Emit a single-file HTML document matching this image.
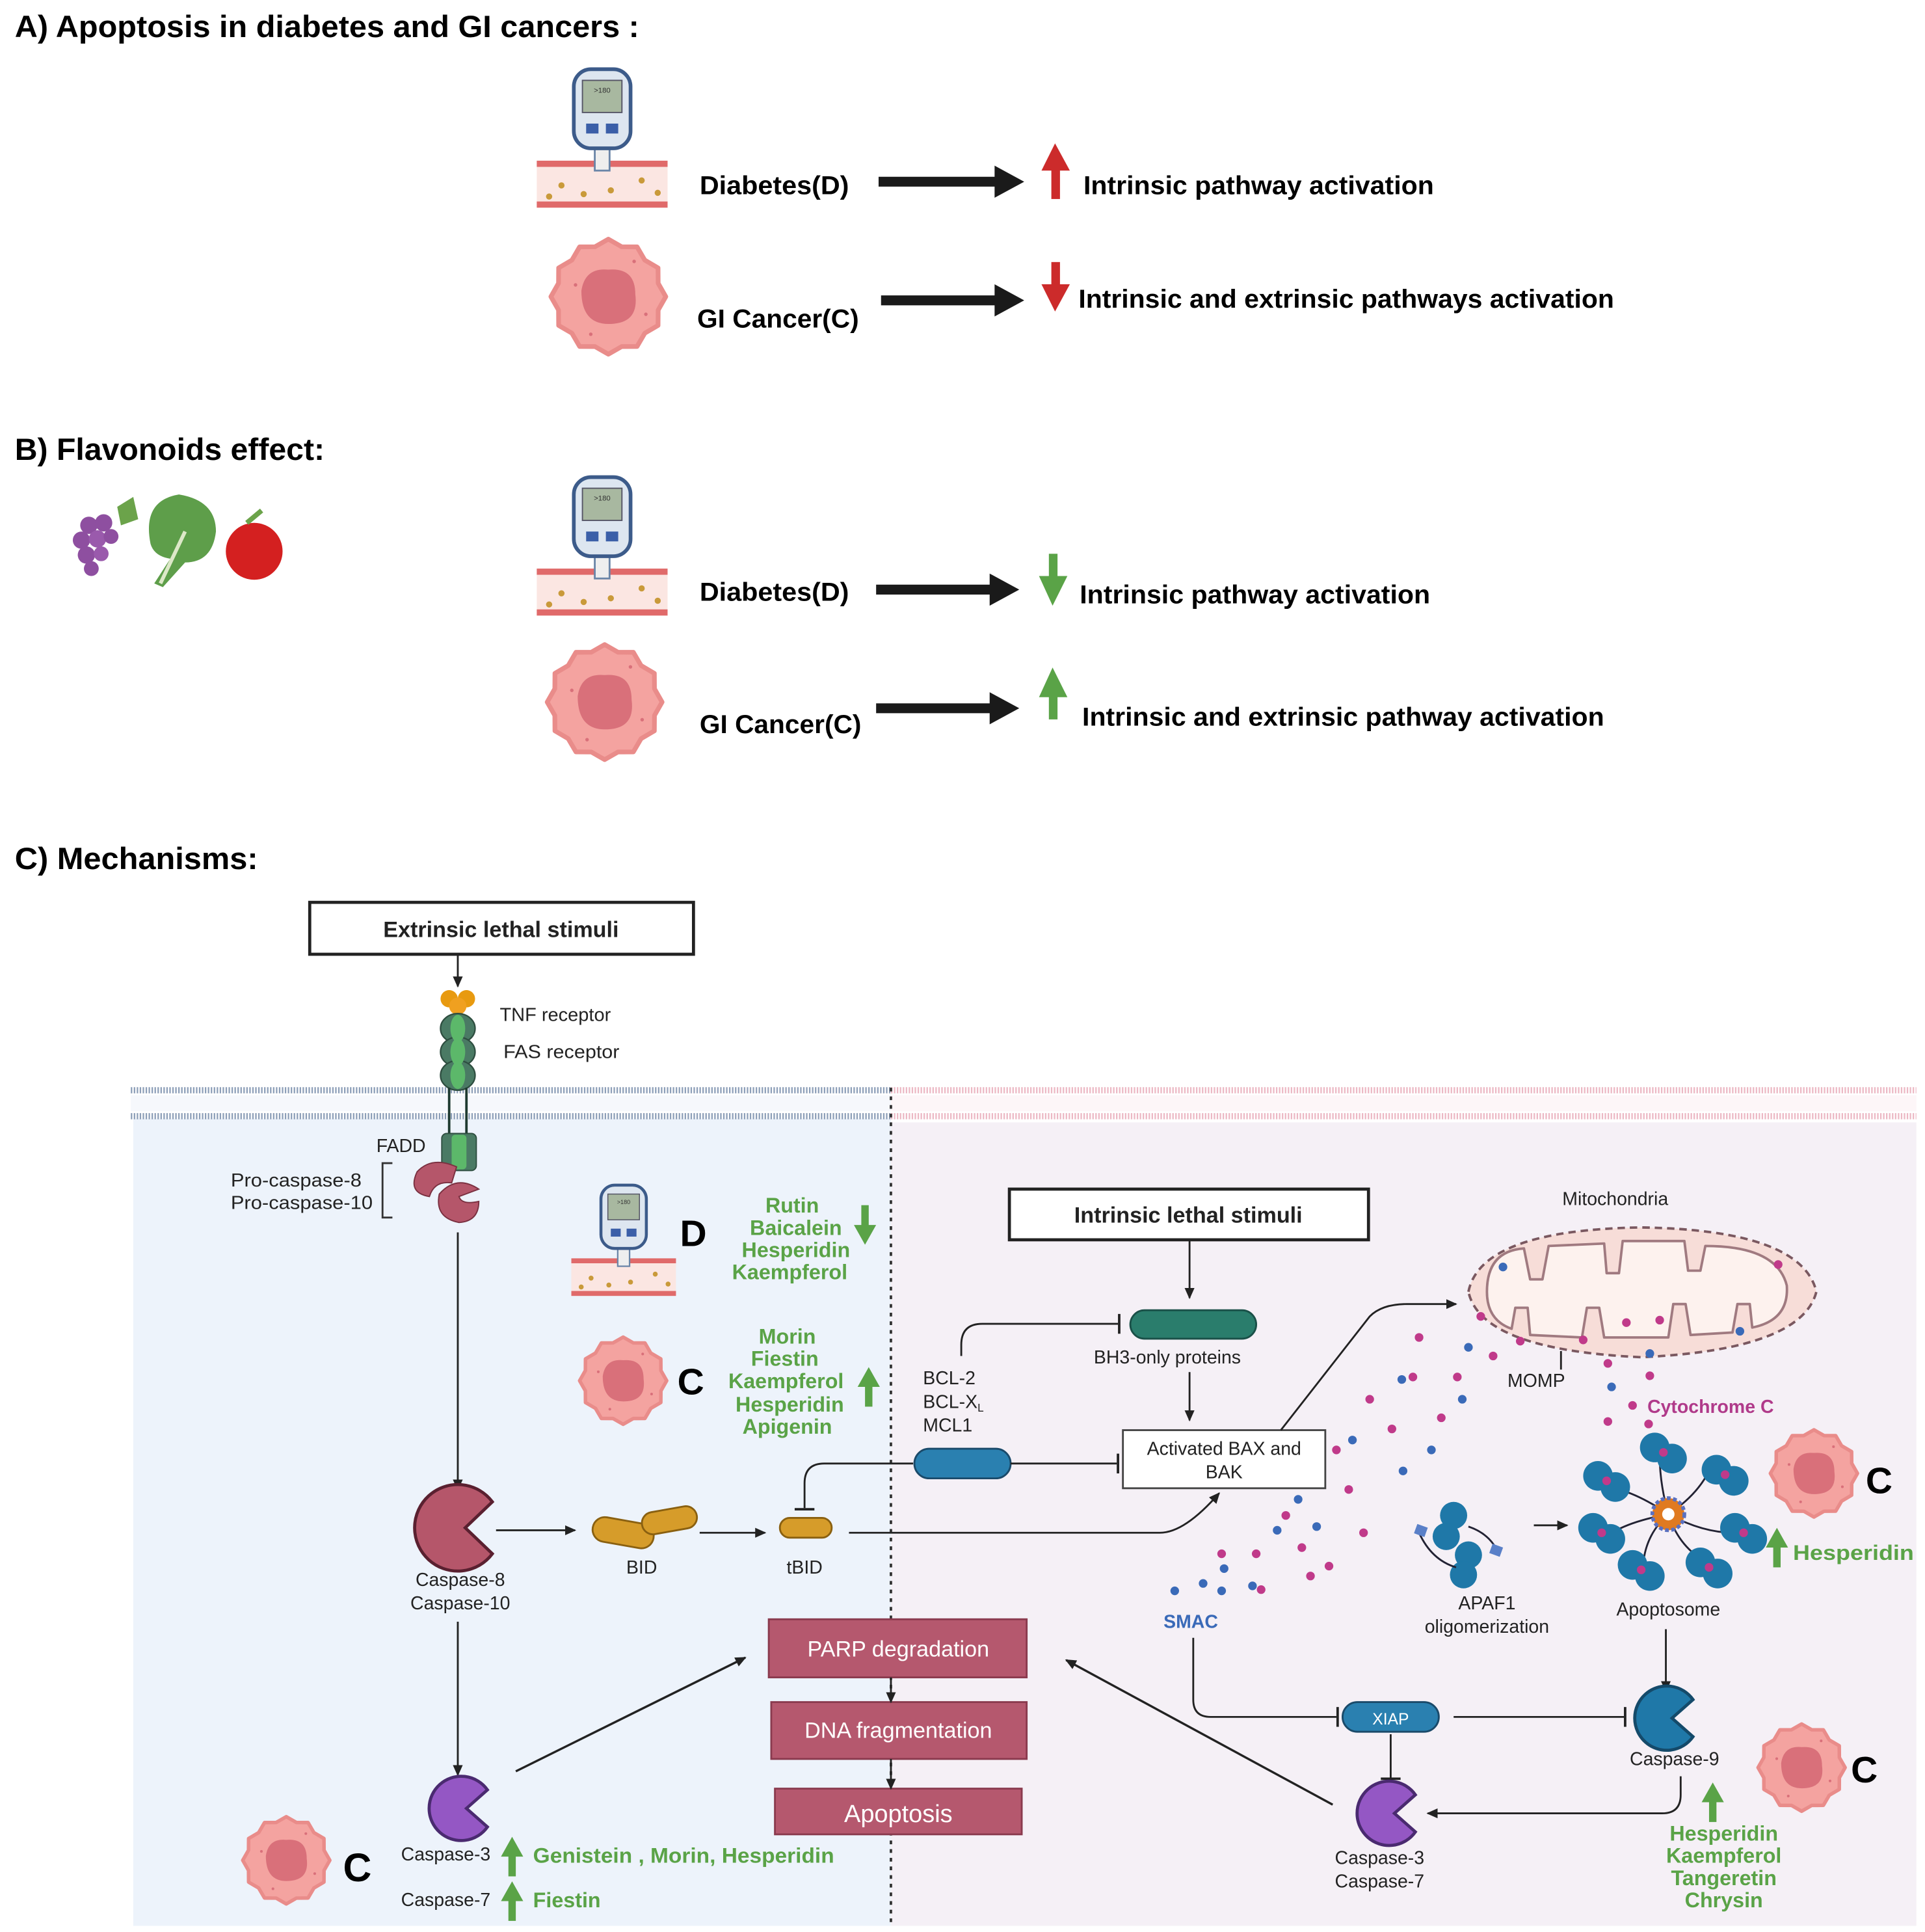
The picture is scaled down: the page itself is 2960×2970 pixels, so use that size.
<!DOCTYPE html>
<html><head><meta charset="utf-8"><style>
html,body{margin:0;padding:0;background:#fff}
svg{display:block}
text{font-family:"Liberation Sans Narrow","Liberation Sans",sans-serif}
.b{font-weight:bold}
.g{fill:#5aa347;font-weight:bold;font-size:17px}
.s{font-size:15px;fill:#222}
</style></head><body>
<svg width="2960" height="2970" viewBox="0 0 1560 1563" preserveAspectRatio="none" xmlns="http://www.w3.org/2000/svg">
<defs>
<marker id="ah" markerWidth="10" markerHeight="10" refX="8" refY="5" orient="auto" markerUnits="userSpaceOnUse"><path d="M0,1 L9,5 L0,9 Z" fill="#222"/></marker>
<g id="cell">
<polygon points="49,0 42.5,11.4 42.4,24.5 31.1,31.1 24.5,42.4 11.4,42.5 0,49 -11.4,42.5 -24.5,42.4 -31.1,31.1 -42.4,24.5 -42.5,11.4 -49,0 -42.5,-11.4 -42.4,-24.5 -31.1,-31.1 -24.5,-42.4 -11.4,-42.5 0,-49 11.4,-42.5 24.5,-42.4 31.1,-31.1 42.4,-24.5 42.5,-11.4" fill="#f4a3a0" stroke="#e98c8a" stroke-width="4" stroke-linejoin="round"/>
<path d="M-23,-5 Q-20,-25 0,-23 Q23,-25 23,-2 Q26,21 5,23 Q-23,26 -23,-5Z" fill="#d9707a"/>
<circle cx="-28" cy="-10" r="1.5" fill="#d9707a"/><circle cx="22" cy="-30" r="1.5" fill="#d9707a"/><circle cx="32" cy="15" r="1.5" fill="#d9707a"/><circle cx="-15" cy="32" r="1.5" fill="#d9707a"/>
</g>
<g id="meter">
<rect x="0" y="0" width="106" height="38" fill="#fbe6e2"/>
<rect x="0" y="0" width="106" height="5" fill="#e06a6a"/>
<rect x="0" y="33" width="106" height="5" fill="#e06a6a"/>
<circle cx="20" cy="20" r="2.5" fill="#c99a3a"/><circle cx="38" cy="27" r="2.5" fill="#c99a3a"/><circle cx="60" cy="24" r="2.5" fill="#c99a3a"/><circle cx="85" cy="16" r="2.5" fill="#c99a3a"/><circle cx="98" cy="26" r="2.5" fill="#c99a3a"/><circle cx="10" cy="29" r="2.5" fill="#c99a3a"/>
<rect x="47" y="-14" width="12" height="22" fill="#eee" stroke="#6b86a8" stroke-width="1.5"/>
<rect x="30" y="-74" width="46" height="64" rx="14" fill="#dde6f0" stroke="#3c5b8a" stroke-width="3"/>
<rect x="37" y="-65" width="32" height="26" fill="#a8b8a0" stroke="#556" stroke-width="1"/>
<text x="53" y="-55" font-size="6" text-anchor="middle" fill="#333">&gt;180</text>
<path d="M40,-30 L50,-30 L50,-22 L40,-22Z M56,-30 L66,-30 L66,-22 L56,-22Z" fill="#3b5fa8"/>
</g>
<g id="pac8"><path d="M28,-21 A35,35 0 1 0 28,21 L6,0 Z" fill="#b5566a" stroke="#5a2030" stroke-width="2.5"/></g>
<g id="pac3"><path d="M22,-15 A26,26 0 1 0 22,15 L5,0 Z" fill="#9457c4" stroke="#4a2a70" stroke-width="2.5"/></g>
<g id="pac9"><path d="M22,-15 A26,26 0 1 0 22,15 L5,0 Z" fill="#1f78a8" stroke="#144a6a" stroke-width="2.5"/></g>
<g id="up"><rect x="-3" y="-2" width="6" height="20" fill="#5aa347"/><path d="M-9,2 L0,-14 L9,2Z" fill="#5aa347"/></g>
<g id="blob"><circle cx="-7" cy="-4" r="12" fill="#1f78a8"/><circle cx="7" cy="5" r="12" fill="#1f78a8"/><circle cx="0" cy="0" r="3.5" fill="#c03a8a"/></g>
</defs>

<!-- Section A -->
<text x="12" y="30" class="b" font-size="25" textLength="506" lengthAdjust="spacingAndGlyphs">A)  Apoptosis in diabetes and GI cancers :</text>
<use href="#meter" x="435" y="130"/>
<text x="567" y="157" class="b" font-size="21" textLength="121" lengthAdjust="spacingAndGlyphs">Diabetes(D)</text>
<line x1="712" y1="147" x2="808" y2="147" stroke="#1a1a1a" stroke-width="8"/><path d="M806,134 L830,147 L806,160Z" fill="#1a1a1a"/>
<rect x="852" y="134" width="7" height="27" fill="#cc2b2b"/><path d="M844,138 L855,116 L867,138Z" fill="#cc2b2b"/>
<text x="878" y="157" class="b" font-size="21" textLength="284" lengthAdjust="spacingAndGlyphs">Intrinsic pathway activation</text>
<use href="#cell" transform="translate(493,240) scale(0.95)"/>
<text x="565" y="265" class="b" font-size="21" textLength="131" lengthAdjust="spacingAndGlyphs">GI Cancer(C)</text>
<line x1="714" y1="243" x2="808" y2="243" stroke="#1a1a1a" stroke-width="8"/><path d="M806,230 L830,243 L806,256Z" fill="#1a1a1a"/>
<rect x="852" y="212" width="7" height="22" fill="#cc2b2b"/><path d="M844,230 L855,252 L867,230Z" fill="#cc2b2b"/>
<text x="874" y="249" class="b" font-size="21" textLength="434" lengthAdjust="spacingAndGlyphs">Intrinsic and extrinsic pathways activation</text>

<!-- Section B -->
<text x="12" y="372" class="b" font-size="25" textLength="251" lengthAdjust="spacingAndGlyphs">B) Flavonoids effect:</text>
<g>
<path d="M95,410 L108,402 L112,420 L98,425Z" fill="#6ba34a"/>
<circle cx="72" cy="425" r="7" fill="#8e4fa0"/><circle cx="84" cy="423" r="7" fill="#8e4fa0"/><circle cx="66" cy="437" r="7" fill="#8e4fa0"/><circle cx="79" cy="436" r="7" fill="#9a5aac"/><circle cx="90" cy="434" r="6" fill="#8e4fa0"/><circle cx="70" cy="449" r="7" fill="#8e4fa0"/><circle cx="82" cy="448" r="6" fill="#9a5aac"/><circle cx="74" cy="460" r="6" fill="#8e4fa0"/>
<path d="M122,440 Q115,405 145,400 Q175,405 175,430 Q172,455 150,455 L132,475 L125,472 L138,452 Q125,450 122,440Z" fill="#5e9e4a"/>
<path d="M130,472 L150,430" stroke="#dde8c8" stroke-width="3"/>
<circle cx="206" cy="446" r="23" fill="#d42020"/><path d="M200,423 L212,413" stroke="#6ba34a" stroke-width="4"/>
</g>
<use href="#meter" x="435" y="460"/>
<text x="567" y="486" class="b" font-size="21" textLength="121" lengthAdjust="spacingAndGlyphs">Diabetes(D)</text>
<line x1="710" y1="477" x2="804" y2="477" stroke="#1a1a1a" stroke-width="8"/><path d="M802,464 L826,477 L802,490Z" fill="#1a1a1a"/>
<rect x="850" y="448" width="7" height="22" fill="#5aa347"/><path d="M842,466 L853,490 L865,466Z" fill="#5aa347"/>
<text x="875" y="488" class="b" font-size="21" textLength="284" lengthAdjust="spacingAndGlyphs">Intrinsic pathway activation</text>
<use href="#cell" transform="translate(490,568) scale(0.95)"/>
<text x="567" y="593" class="b" font-size="21" textLength="131" lengthAdjust="spacingAndGlyphs">GI Cancer(C)</text>
<line x1="710" y1="573" x2="804" y2="573" stroke="#1a1a1a" stroke-width="8"/><path d="M802,560 L826,573 L802,586Z" fill="#1a1a1a"/>
<rect x="850" y="560" width="7" height="22" fill="#5aa347"/><path d="M842,564 L853,540 L865,564Z" fill="#5aa347"/>
<text x="877" y="587" class="b" font-size="21" textLength="423" lengthAdjust="spacingAndGlyphs">Intrinsic and extrinsic pathway activation</text>

<!-- Section C -->
<text x="12" y="703" class="b" font-size="25" textLength="197" lengthAdjust="spacingAndGlyphs">C) Mechanisms:</text>
<rect x="108" y="905" width="614" height="653" fill="#edf3fb"/>
<rect x="722" y="908" width="831" height="650" fill="#f5f0f6"/>
<g stroke-width="5" stroke-dasharray="1.2 1.2">
<line x1="106" y1="882" x2="722" y2="882" stroke="#8d9fb8"/>
<line x1="106" y1="903" x2="722" y2="903" stroke="#8d9fb8"/>
<line x1="722" y1="882" x2="1553" y2="882" stroke="#ecb8c4"/>
<line x1="722" y1="903" x2="1553" y2="903" stroke="#ecb8c4"/>
</g>
<rect x="106" y="886" width="616" height="13" fill="#f6f8fc"/>
<rect x="722" y="886" width="831" height="13" fill="#fdf6f8"/>
<line x1="722" y1="880" x2="722" y2="1558" stroke="#333" stroke-width="2" stroke-dasharray="3 4"/>

<rect x="251" y="730" width="311" height="42" fill="#fff" stroke="#222" stroke-width="2.5"/>
<text x="406" y="758" class="b" font-size="18" text-anchor="middle" fill="#222">Extrinsic lethal stimuli</text>
<line x1="371" y1="772" x2="371" y2="798" stroke="#222" stroke-width="1.5" marker-end="url(#ah)"/>
<circle cx="364" cy="808" r="7" fill="#e89a10"/><circle cx="378" cy="808" r="7" fill="#e89a10"/><circle cx="371" cy="814" r="7" fill="#f0a020"/>
<g fill="#4a7a64" stroke="#2e4e40" stroke-width="1.2">
<ellipse cx="371" cy="832" rx="14" ry="12"/><ellipse cx="371" cy="851" rx="14" ry="12"/><ellipse cx="371" cy="870" rx="14" ry="12"/>
</g>
<g fill="#5cb86a"><ellipse cx="371" cy="832" rx="6" ry="11"/><ellipse cx="371" cy="851" rx="6" ry="11"/><ellipse cx="371" cy="870" rx="6" ry="11"/></g>
<line x1="364" y1="880" x2="364" y2="920" stroke="#1e3a30" stroke-width="2"/><line x1="378" y1="880" x2="378" y2="920" stroke="#1e3a30" stroke-width="2"/>
<rect x="358" y="917" width="28" height="30" rx="4" fill="#4a7a64" stroke="#2e4e40"/><rect x="366" y="918" width="12" height="28" rx="3" fill="#5cb86a"/>
<text x="405" y="826" class="s" textLength="90" lengthAdjust="spacingAndGlyphs">TNF receptor</text>
<text x="408" y="856" class="s" textLength="94" lengthAdjust="spacingAndGlyphs">FAS receptor</text>
<text x="305" y="932" class="s">FADD</text>
<text x="187" y="960" class="s" textLength="106" lengthAdjust="spacingAndGlyphs">Pro-caspase-8</text>
<text x="187" y="978" class="s" textLength="115" lengthAdjust="spacingAndGlyphs">Pro-caspase-10</text>
<path d="M318,941 L310,941 L310,985 L318,985" fill="none" stroke="#333" stroke-width="1.5"/>
<path d="M370,944 Q350,935 338,948 Q330,965 348,968 Q352,955 366,957Z" fill="#b5566a" stroke="#7a3040"/>
<path d="M388,962 Q370,950 356,966 Q352,985 372,989 Q388,988 388,972 Q374,975 372,968Z" fill="#b5566a" stroke="#7a3040"/>
<line x1="371" y1="997" x2="371" y2="1205" stroke="#222" stroke-width="1.5" marker-end="url(#ah)"/>
<use href="#pac8" x="371" y="1236"/>
<text x="373" y="1283" class="s" text-anchor="middle">Caspase-8</text>
<text x="373" y="1302" class="s" text-anchor="middle">Caspase-10</text>
<line x1="402" y1="1238" x2="466" y2="1238" stroke="#222" stroke-width="1.5" marker-end="url(#ah)"/>
<rect x="480" y="1230" width="50" height="20" rx="10" fill="#d69c2a" stroke="#8a6010" stroke-width="1.5" transform="rotate(10 505 1240)"/>
<rect x="520" y="1221" width="45" height="18" rx="9" fill="#d69c2a" stroke="#8a6010" stroke-width="1.5" transform="rotate(-10 542 1230)"/>
<text x="520" y="1273" class="s" text-anchor="middle">BID</text>
<line x1="567" y1="1240" x2="620" y2="1240" stroke="#222" stroke-width="1.5" marker-end="url(#ah)"/>
<rect x="632" y="1228" width="42" height="16" rx="8" fill="#d69c2a" stroke="#8a6010" stroke-width="1.5"/>
<text x="652" y="1273" class="s" text-anchor="middle">tBID</text>
<path d="M740,1184 L668,1184 Q652,1184 652,1200 L652,1220" fill="none" stroke="#222" stroke-width="1.5"/><line x1="644" y1="1221" x2="660" y2="1221" stroke="#222" stroke-width="2"/>
<path d="M688,1240 L940,1240 Q960,1240 988,1208" fill="none" stroke="#222" stroke-width="1.5" marker-end="url(#ah)"/>
<line x1="371" y1="1312" x2="371" y2="1436" stroke="#222" stroke-width="1.5" marker-end="url(#ah)"/>
<use href="#pac3" x="373" y="1463"/>
<line x1="418" y1="1433" x2="604" y2="1341" stroke="#222" stroke-width="1.8" marker-end="url(#ah)"/>
<g fill="#b5586e" stroke="#8a3a4e" stroke-width="1.5">
<rect x="623" y="1310" width="209" height="47"/><rect x="625" y="1377" width="207" height="46"/><rect x="628" y="1447" width="200" height="37"/>
</g>
<g fill="#fff" text-anchor="middle"><text x="728" y="1340" font-size="18">PARP degradation</text><text x="728" y="1406" font-size="18">DNA fragmentation</text><text x="728" y="1474" font-size="20">Apoptosis</text></g>
<line x1="722" y1="1357" x2="722" y2="1377" stroke="#222" stroke-width="1.5" marker-end="url(#ah)"/>
<line x1="722" y1="1423" x2="722" y2="1447" stroke="#222" stroke-width="1.5" marker-end="url(#ah)"/>
<use href="#cell" transform="translate(232,1505) scale(0.72)"/>
<text x="278" y="1522" class="b" font-size="32">C</text>
<text x="325" y="1505" class="s">Caspase-3</text><use href="#up" x="415" y="1500"/>
<text x="432" y="1507" class="g" textLength="244" lengthAdjust="spacingAndGlyphs">Genistein , Morin, Hesperidin</text>
<text x="325" y="1542" class="s">Caspase-7</text><use href="#up" x="415" y="1536"/>
<text x="432" y="1543" class="g">Fiestin</text>
<use href="#meter" transform="translate(463,1018) scale(0.8)"/>
<text x="551" y="1008" class="b" font-size="30">D</text>
<g text-anchor="middle" class="g"><text x="642" y="981" class="g">Rutin</text><text x="645" y="999" class="g">Baicalein</text><text x="645" y="1017" class="g">Hesperidin</text><text x="640" y="1035" class="g">Kaempferol</text></g>
<g transform="translate(701,993) rotate(180)"><use href="#up"/></g>
<use href="#cell" transform="translate(505,1117) scale(0.72)"/>
<text x="549" y="1128" class="b" font-size="30">C</text>
<g text-anchor="middle"><text x="638" y="1087" class="g">Morin</text><text x="636" y="1105" class="g">Fiestin</text><text x="637" y="1123" class="g">Kaempferol</text><text x="640" y="1142" class="g">Hesperidin</text><text x="638" y="1160" class="g">Apigenin</text></g>
<use href="#up" x="704" y="1120"/>

<rect x="818" y="962" width="291" height="41" fill="#fff" stroke="#222" stroke-width="2.5"/>
<text x="963" y="989" class="b" font-size="18" text-anchor="middle" fill="#222">Intrinsic lethal stimuli</text>
<line x1="964" y1="1003" x2="964" y2="1050" stroke="#222" stroke-width="1.5" marker-end="url(#ah)"/>
<rect x="916" y="1060" width="102" height="23" rx="11.5" fill="#2a7d6c" stroke="#1a5048" stroke-width="1.5"/>
<text x="946" y="1103" class="s" text-anchor="middle">BH3-only proteins</text>
<line x1="964" y1="1110" x2="964" y2="1149" stroke="#222" stroke-width="1.5" marker-end="url(#ah)"/>
<rect x="910" y="1157" width="164" height="47" fill="#fff" stroke="#444" stroke-width="1.5"/>
<text x="992" y="1177" class="s" text-anchor="middle">Activated BAX and</text>
<text x="992" y="1196" class="s" text-anchor="middle">BAK</text>
<text x="748" y="1120" class="s">BCL-2</text>
<text x="748" y="1139" class="s">BCL-X<tspan font-size="9" dy="3">L</tspan></text>
<text x="748" y="1158" class="s">MCL1</text>
<path d="M779,1097 L779,1088 Q779,1071 796,1071 L906,1071" fill="none" stroke="#222" stroke-width="1.5"/><line x1="907" y1="1063" x2="907" y2="1079" stroke="#222" stroke-width="2"/>
<rect x="741" y="1172" width="78" height="24" rx="12" fill="#2a80b0" stroke="#1a4a6a" stroke-width="1.5"/>
<line x1="819" y1="1184" x2="905" y2="1184" stroke="#222" stroke-width="1.5"/><line x1="906" y1="1176" x2="906" y2="1192" stroke="#222" stroke-width="2"/>
<path d="M1038,1157 L1110,1065 Q1120,1055 1140,1055 L1180,1055" fill="none" stroke="#222" stroke-width="1.5" marker-end="url(#ah)"/>
<text x="1309" y="975" class="s" text-anchor="middle">Mitochondria</text>
<path d="M1190,1045 Q1200,995 1330,993 Q1460,995 1472,1045 Q1460,1092 1330,1098 Q1200,1092 1190,1045Z" fill="#f7ddd8" stroke="#7a5860" stroke-width="2" stroke-dasharray="6 4"/>
<path d="M1205,1045 Q1205,1012 1235,1010 L1240,1035 L1250,1035 L1255,1008 L1300,1006 L1302,1030 L1312,1030 L1315,1004 L1365,1004 L1368,1028 L1378,1028 L1382,1008 Q1440,1008 1448,1040 Q1450,1068 1420,1074 L1418,1055 L1408,1055 L1404,1078 L1370,1080 L1366,1055 L1356,1055 L1352,1082 L1300,1082 L1296,1058 L1286,1058 L1282,1082 L1240,1080 L1238,1058 L1228,1058 L1225,1075 Q1205,1068 1205,1045Z" fill="#fdf2ee" stroke="#a07a80" stroke-width="2" stroke-linejoin="round"/>
<line x1="1265" y1="1093" x2="1265" y2="1108" stroke="#222" stroke-width="1.5"/>
<text x="1245" y="1122" class="s" text-anchor="middle">MOMP</text>
<g fill="#c03a8a">
<circle cx="1232" cy="1085" r="3.5"/><circle cx="1283" cy="1084" r="3.5"/><circle cx="1318" cy="1070" r="3.5"/><circle cx="1345" cy="1068" r="3.5"/><circle cx="1441" cy="1023" r="3.5"/><circle cx="1200" cy="1065" r="3.5"/>
<circle cx="1150" cy="1082" r="3.5"/><circle cx="1145" cy="1114" r="3.5"/><circle cx="1181" cy="1114" r="3.5"/><circle cx="1210" cy="1097" r="3.5"/><circle cx="1110" cy="1132" r="3.5"/><circle cx="1168" cy="1147" r="3.5"/><circle cx="1128" cy="1156" r="3.5"/><circle cx="1083" cy="1173" r="3.5"/><circle cx="1093" cy="1205" r="3.5"/><circle cx="1042" cy="1226" r="3.5"/><circle cx="1018" cy="1257" r="3.5"/><circle cx="1055" cy="1252" r="3.5"/><circle cx="1062" cy="1275" r="3.5"/><circle cx="1022" cy="1286" r="3.5"/><circle cx="990" cy="1257" r="3.5"/><circle cx="1105" cy="1240" r="3.5"/><circle cx="1077" cy="1267" r="3.5"/>
<circle cx="1303" cy="1103" r="3.5"/><circle cx="1337" cy="1113" r="3.5"/><circle cx="1323" cy="1137" r="3.5"/><circle cx="1303" cy="1150" r="3.5"/><circle cx="1336" cy="1152" r="3.5"/>
</g>
<g fill="#3a6ab8">
<circle cx="1218" cy="1025" r="3.5"/><circle cx="1410" cy="1077" r="3.5"/><circle cx="1190" cy="1090" r="3.5"/><circle cx="1185" cy="1132" r="3.5"/><circle cx="1160" cy="1173" r="3.5"/><circle cx="1096" cy="1165" r="3.5"/><circle cx="1137" cy="1190" r="3.5"/><circle cx="1052" cy="1213" r="3.5"/><circle cx="1067" cy="1235" r="3.5"/><circle cx="1136" cy="1116" r="3.5"/><circle cx="1337" cy="1095" r="3.5"/><circle cx="1306" cy="1122" r="3.5"/>
<circle cx="1015" cy="1283" r="3.5"/><circle cx="990" cy="1287" r="3.5"/><circle cx="975" cy="1281" r="3.5"/><circle cx="952" cy="1287" r="3.5"/><circle cx="992" cy="1269" r="3.5"/><circle cx="1035" cy="1238" r="3.5"/>
</g>
<text x="1335" y="1143" class="b" font-size="15" fill="#b03a8a">Cytochrome C</text>
<text x="965" y="1317" class="b" font-size="15" fill="#3a6ab8" text-anchor="middle">SMAC</text>
<g fill="#1f78a8">
<circle cx="1178" cy="1226" r="11"/><circle cx="1172" cy="1243" r="11"/><circle cx="1190" cy="1258" r="11"/><circle cx="1186" cy="1274" r="11"/>
</g>
<path d="M1190,1235 Q1205,1240 1212,1252 M1150,1240 Q1160,1262 1180,1268" fill="none" stroke="#223" stroke-width="1.5"/>
<rect x="1147" y="1234" width="9" height="8" fill="#5a80c8" transform="rotate(20 1151 1238)"/><rect x="1208" y="1250" width="9" height="8" fill="#5a80c8" transform="rotate(20 1212 1254)"/>
<text x="1205" y="1302" class="s" text-anchor="middle">APAF1</text>
<text x="1205" y="1321" class="s" text-anchor="middle">oligomerization</text>
<line x1="1243" y1="1234" x2="1270" y2="1234" stroke="#222" stroke-width="1.5" marker-end="url(#ah)"/>
<g stroke="#223" stroke-width="1.5" fill="none">
<path d="M1352,1225 Q1345,1200 1345,1178"/><path d="M1352,1225 Q1375,1210 1385,1190"/><path d="M1352,1225 Q1380,1240 1405,1240"/><path d="M1352,1225 Q1360,1250 1380,1262"/><path d="M1352,1225 Q1335,1240 1332,1262"/><path d="M1352,1225 Q1325,1230 1310,1238"/><path d="M1352,1225 Q1330,1210 1312,1205"/>
</g>
<use href="#blob" x="1348" y="1175"/><use href="#blob" x="1398" y="1193"/><use href="#blob" x="1413" y="1240"/><use href="#blob" x="1385" y="1268"/><use href="#blob" x="1330" y="1270"/><use href="#blob" x="1298" y="1240"/><use href="#blob" x="1302" y="1198"/>
<circle cx="1352" cy="1225" r="13" fill="#e07a20" stroke="#5a70c0" stroke-width="3" stroke-dasharray="3 2"/><circle cx="1352" cy="1225" r="5" fill="#fff"/>
<text x="1352" y="1307" class="s" text-anchor="middle">Apoptosome</text>
<use href="#cell" transform="translate(1470,1192) scale(0.72)"/>
<text x="1512" y="1208" class="b" font-size="30">C</text>
<use href="#up" x="1440" y="1250"/>
<text x="1453" y="1262" class="g" textLength="98" lengthAdjust="spacingAndGlyphs">Hesperidin</text>
<path d="M967,1325 L967,1375 Q967,1389 981,1389 L1083,1389" fill="none" stroke="#222" stroke-width="1.5"/><line x1="1084" y1="1381" x2="1084" y2="1397" stroke="#222" stroke-width="2"/>
<rect x="1088" y="1377" width="78" height="24" rx="12" fill="#2a80b0" stroke="#1a4a6a" stroke-width="1.5"/>
<text x="1127" y="1395" font-size="13" fill="#fff" text-anchor="middle">XIAP</text>
<line x1="1178" y1="1389" x2="1316" y2="1389" stroke="#222" stroke-width="1.5"/><line x1="1317" y1="1381" x2="1317" y2="1397" stroke="#222" stroke-width="2"/>
<line x1="1350" y1="1318" x2="1350" y2="1368" stroke="#222" stroke-width="1.5" marker-end="url(#ah)"/>
<use href="#pac9" x="1350" y="1390"/>
<text x="1357" y="1428" class="s" text-anchor="middle">Caspase-9</text>
<line x1="1127" y1="1403" x2="1127" y2="1438" stroke="#222" stroke-width="1.5"/><line x1="1119" y1="1439" x2="1135" y2="1439" stroke="#222" stroke-width="2"/>
<use href="#pac3" x="1125" y="1467"/>
<text x="1118" y="1508" class="s" text-anchor="middle">Caspase-3</text>
<text x="1118" y="1527" class="s" text-anchor="middle">Caspase-7</text>
<path d="M1362,1437 L1362,1452 Q1362,1467 1347,1467 L1157,1467" fill="none" stroke="#222" stroke-width="1.5" marker-end="url(#ah)"/>
<line x1="1080" y1="1460" x2="864" y2="1343" stroke="#222" stroke-width="1.8" marker-end="url(#ah)"/>
<use href="#cell" transform="translate(1460,1430) scale(0.72)"/>
<text x="1500" y="1442" class="b" font-size="30">C</text>
<use href="#up" x="1388" y="1456"/>
<g text-anchor="middle"><text x="1397" y="1489" class="g">Hesperidin</text><text x="1397" y="1507" class="g">Kaempferol</text><text x="1397" y="1525" class="g">Tangeretin</text><text x="1397" y="1543" class="g">Chrysin</text></g>
</svg>
</body></html>
